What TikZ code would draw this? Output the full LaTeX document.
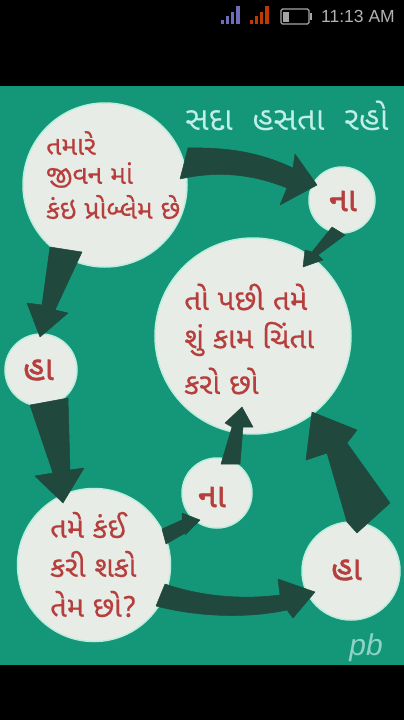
\documentclass[tikz,border=0pt]{standalone}
\usepackage{fontspec}
\setmainfont{Liberation Sans}
\newfontfamily\guj[Script=Gujarati,FakeBold=0.4]{Noto Sans Gujarati UI}
\newfontfamily\gujthin[Script=Gujarati]{Noto Sans Gujarati UI}
\newfontfamily\gujbig[Script=Gujarati,FakeBold=1.4]{Noto Sans Gujarati UI}
\definecolor{panel}{HTML}{149679}
\definecolor{disc}{HTML}{E8ECE6}
\definecolor{rim}{HTML}{BDEEDD}
\definecolor{ink}{HTML}{B63E3C}
\definecolor{arrowdark}{HTML}{21483D}
\definecolor{titlecol}{HTML}{BFEFE6}
\tikzset{
  bubble/.style={circle,fill=disc,draw=rim,line width=1.5pt,inner sep=0pt},
  say/.style={anchor=west,inner sep=0pt,text=ink,font=\guj\fontsize{#1}{#1}\selectfont},
  shout/.style={anchor=west,inner sep=0pt,text=ink,font=\gujbig\fontsize{#1}{#1}\selectfont},
  fat/.style={fill=arrowdark,draw=arrowdark,line width=0.5pt,line join=round},
  sigblue/.style={fill=blue!35!gray!85!white},
  sigred/.style={fill=orange!60!red!75!black}
}
\begin{document}
\begin{tikzpicture}[x=1pt,y=-1pt]
\useasboundingbox (0,0) rectangle (404,720);
\fill[black] (0,0) rectangle (404,720);
\fill[panel] (0,86) rectangle (404,665);
% status bar
\fill[sigblue] (221,24) rectangle (224,20);
\fill[sigblue] (226,24) rectangle (229,16);
\fill[sigblue] (231,24) rectangle (234,12);
\fill[sigblue] (236,24) rectangle (240,6);
\fill[sigred] (250,24) rectangle (253,20);
\fill[sigred] (255,24) rectangle (258,16);
\fill[sigred] (260,24) rectangle (263,12);
\fill[sigred] (265,24) rectangle (269,6);
\draw[gray!70!white,line width=1.3pt,rounded corners=1.5pt] (281,9) rectangle (309,24);
\fill[gray!70!white] (283,11.5) rectangle (289,21.5);
\fill[gray!70!white] (310,13) rectangle (311.5,20);
\node[inner sep=0pt,text=gray!60!white,font=\fontsize{17.5}{17.5}\selectfont] (clock) at (358,16.5) {11:13 AM};
% title
\node[inner sep=0pt,text=titlecol,font=\gujthin\fontsize{33}{33}\selectfont] (title) at (287,116) {સદા\ \ હસતા\ \ રહો};
% discs
\node[bubble,minimum size=164pt] (q1) at (105,185) {};
\node[bubble,minimum size=66pt] (n1) at (342,200) {};
\node[bubble,minimum size=196pt] (c) at (253,336) {};
\node[bubble,minimum size=72pt] (h1) at (41,370) {};
\node[bubble,minimum size=70pt] (n2) at (217,493) {};
\node[bubble,minimum size=153pt] (q2) at (94,565) {};
\node[bubble,minimum size=98pt] (h2) at (351,571) {};
% arrows
\path[fat] ([shift={(83,-37)}]q1.center) .. controls (235,147) and (265,155) .. (293,168) -- (295,154)
  -- ([shift={(-25,-15)}]n1.center) -- (280,205) -- (287,188) .. controls (255,175) and (220,170) .. ([shift={(75,-6)}]q1.center) -- cycle;
\path[fat] ([shift={(-55,62)}]q1.center) -- (42,305) -- (27,303) -- ([shift={(-1,-33)}]h1.center) -- (68,313) -- (55,310) -- ([shift={(-23,67)}]q1.center) -- cycle;
\path[fat] ([shift={(-11,35)}]h1.center) -- (53,473) -- (35,476) -- ([shift={(-31,-62)}]q2.center) -- (84,468) -- (70,470) -- ([shift={(27,28)}]h1.center) -- cycle;
\path[fat] ([shift={(68,-36)}]q2.center) -- (182,520) -- (182,513) -- ([shift={(-17,27)}]n2.center) -- (185,535) -- (187,532) -- ([shift={(72,-21)}]q2.center) -- cycle;
\path[fat] ([shift={(4,-29)}]n2.center) -- (232,427) -- (225,423) -- ([shift={(-11,71)}]c.center) -- (253,427) -- (243,427) -- ([shift={(23,-29)}]n2.center) -- cycle;
\path[fat] ([shift={(-4,-49)}]h2.center) -- (327,453) -- (306,460) -- ([shift={(59,76)}]c.center) -- (357,430) -- (347,443) -- ([shift={(39,-68)}]h2.center) -- ([shift={(6,-38)}]h2.center) -- cycle;
\path[fat] ([shift={(-10,27)}]n1.center) -- (312,252) -- (305,250) -- ([shift={(50,-69)}]c.center) -- (323,260) -- (318,255) -- ([shift={(3,35)}]n1.center) -- cycle;
\path[fat] ([shift={(71,19)}]q2.center) .. controls (200,596) and (240,600) .. (280,595) -- (278,579)
  -- ([shift={(-36,21)}]h2.center) -- (293,618) -- (287,610) .. controls (240,620) and (190,615) .. ([shift={(62,41)}]q2.center) -- cycle;
% texts
\node[say=26.5] (t1a) at (46,143) {તમારે};
\node[say=26.5] (t1b) at (46,175) {જીવન માં};
\node[say=26.5] (t1c) at (46,207) {કંઇ પ્રોબ્લેમ છે};
\node[say=29.5] (t2a) at (184,297) {તો પછી તમે};
\node[say=29.5] (t2b) at (184,339) {શું કામ ચિંતા};
\node[say=29.5] (t2c) at (184,381) {કરો છો};
\node[say=29] (t3a) at (50,525) {તમે કંઈ};
\node[say=29] (t3b) at (50,564) {કરી શકો};
\node[say=29] (t3c) at (50,604) {તેમ છો?};
\node[shout=34] (l1) at (329,201) {ના};
\node[shout=34] (l2) at (198,497) {ના};
\node[shout=34] (l3) at (23,370) {હા};
\node[shout=34] (l4) at (331,570) {હા};
\node[inner sep=0pt,text=titlecol!70!panel,font=\itshape\fontsize{30}{30}\selectfont] (sig) at (366,648) {pb};
\end{tikzpicture}
\end{document}
